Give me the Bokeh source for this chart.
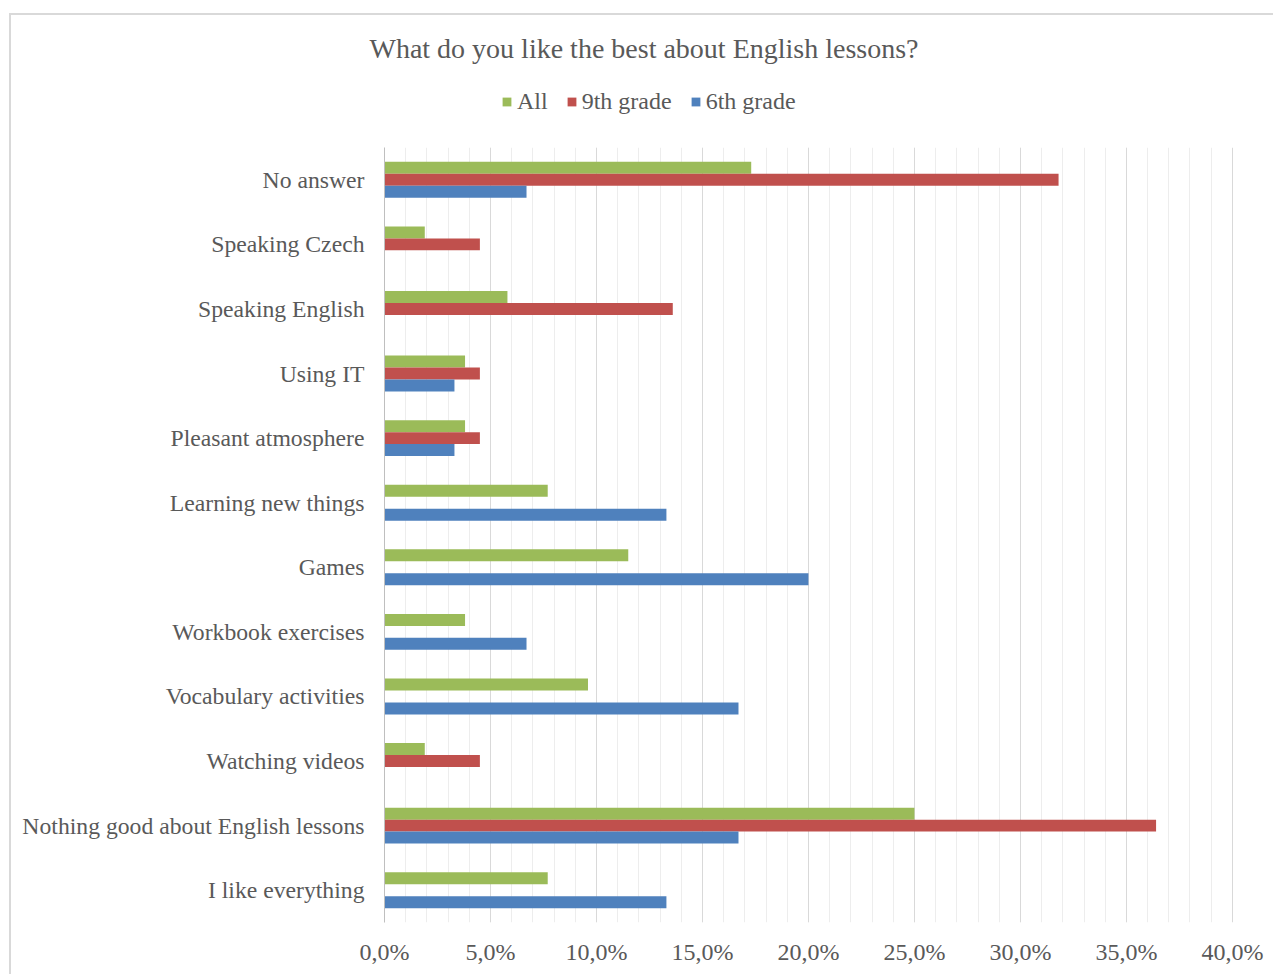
from bokeh.plotting import figure
from bokeh.layouts import column
from bokeh.models import (FactorRange, FixedTicker, Legend, LegendItem, ColumnDataSource,
                          Label, Range1d)
from bokeh.transform import dodge
from bokeh.embed import file_html
from bokeh.resources import INLINE

categories = ["No answer", "Speaking Czech", "Speaking English", "Using IT",
              "Pleasant atmosphere", "Learning new things", "Games",
              "Workbook exercises", "Vocabulary activities", "Watching videos",
              "Nothing good about English lessons", "I like everything"]
all_pct = [17.3, 1.9, 5.8, 3.8, 3.8, 7.7, 11.5, 3.8, 9.6, 1.9, 25.0, 7.7]
ninth_pct = [31.8, 4.5, 13.6, 4.5, 4.5, 0.0, 0.0, 0.0, 0.0, 4.5, 36.4, 0.0]
sixth_pct = [6.7, 0.0, 0.0, 3.3, 3.3, 13.3, 20.0, 6.7, 16.7, 0.0, 16.7, 13.3]
series_names = ["All", "9th grade", "6th grade"]
series_colors = ["#9bbb59", "#c0504d", "#4f81bd"]
x_ticks = [0, 5, 10, 15, 20, 25, 30, 35, 40]
x_tick_labels = ["0,0%", "5,0%", "10,0%", "15,0%", "20,0%", "25,0%", "30,0%", "35,0%", "40,0%"]
title_text = "What do you like the best about English  lessons?"

FONT = "Liberation Serif"
TXT = "#595959"
AXC = "#bfbfbf"
W = 1262
HEAD_H = 132

src = ColumnDataSource(dict(cat=categories, all=all_pct, ninth=ninth_pct, sixth=sixth_pct))
cols = ["all", "ninth", "sixth"]

# ---- main chart ----
p = figure(width=W, height=827,
           y_range=FactorRange(factors=categories[::-1], range_padding=0),
           x_range=(0, 40.1),
           output_backend="svg", toolbar_location=None,
           min_border_left=373, min_border_right=39,
           min_border_top=0, min_border_bottom=52)
p.frame_align = False

bw = 0.185
offsets = [bw, 0.0, -bw]
for c, off, color in zip(cols, offsets, series_colors):
    p.hbar(y=dodge("cat", off, range=p.y_range), left=0, right=c, height=bw,
           source=src, fill_color=color, line_color=None)

xa = p.xaxis[0]
xa.ticker = FixedTicker(ticks=x_ticks, minor_ticks=list(range(1, 40)))
xa.major_label_overrides = {tk: lb for tk, lb in zip(x_ticks, x_tick_labels)}
xa.axis_line_color = None
xa.major_tick_line_color = None
xa.minor_tick_line_color = None
xa.major_tick_out = 0
xa.minor_tick_out = 0
xa.major_label_standoff = 16
xa.major_label_text_font = FONT
xa.major_label_text_font_size = "24px"
xa.major_label_text_color = TXT

ya = p.yaxis[0]
ya.axis_line_color = AXC
ya.major_tick_line_color = None
ya.major_tick_out = 0
ya.major_label_standoff = 20
ya.major_label_text_font = FONT
ya.major_label_text_font_size = "23.7px"
ya.major_label_text_color = TXT

p.xgrid.grid_line_color = "#d9d9d9"
p.xgrid.minor_grid_line_color = "#ededed"
p.ygrid.grid_line_color = None
p.outline_line_color = None

# ---- header with title and legend ----
h = figure(width=W, height=HEAD_H, x_range=Range1d(0, W), y_range=Range1d(0, HEAD_H),
           x_axis_type=None, y_axis_type=None,
           output_backend="svg", toolbar_location=None, min_border=0)
h.frame_align = False
h.outline_line_color = None
h.grid.visible = False

proxies = []
for c, color in zip(cols, series_colors):
    r = h.hbar(y="cat", left=0, right=c, height=bw, source=src,
               fill_color=color, line_color=None)
    proxies.append(r)

h.add_layout(Label(x=636, y=99, text=title_text, text_align="center", text_baseline="middle",
                   text_font=FONT, text_font_size="28px", text_color=TXT))

legend = Legend(items=[LegendItem(label=n, renderers=[r]) for n, r in zip(series_names, proxies)],
                orientation="horizontal", location=(490, 32),
                glyph_width=11, glyph_height=11, label_standoff=5, spacing=18,
                padding=0, margin=0, border_line_color=None, background_fill_alpha=0,
                label_text_font=FONT, label_text_font_size="24px", label_text_color=TXT)
h.add_layout(legend)

layout = column(h, p, spacing=0)
layout.margin = (13, 0, 0, 9)
layout.styles = {"border-left": "2px solid #d9d9d9", "border-top": "2px solid #d9d9d9"}

open("out.html", "w").write(file_html(layout, INLINE))
